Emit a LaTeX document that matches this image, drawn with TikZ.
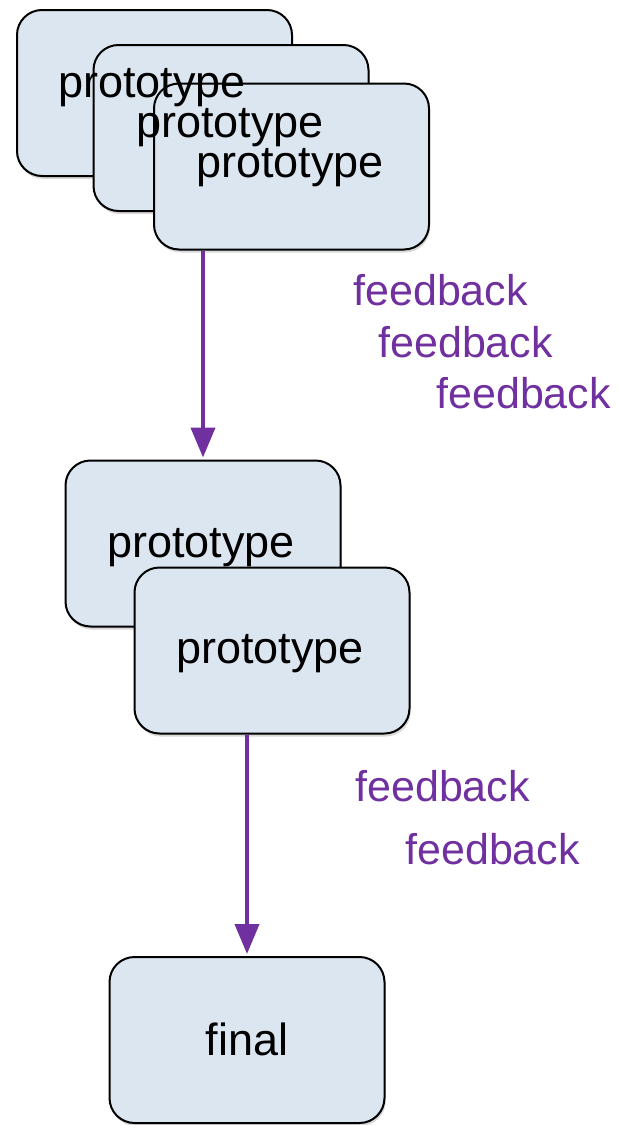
\documentclass[tikz,border=0pt]{standalone}
\usepackage{fontspec}
\setmainfont{Liberation Sans}
\usetikzlibrary{arrows.meta, shadows}
\definecolor{boxfill}{RGB}{220,230,240}
\definecolor{fbpurple}{RGB}{112,48,160}
\tikzset{
  proto/.style={rectangle, rounded corners=12.5pt, draw=black, line width=1pt,
    fill=boxfill, minimum width=137.5pt, minimum height=83pt,
    drop shadow={shadow xshift=0.6pt, shadow yshift=-1.5pt, opacity=0.3}},
  ptext/.style={font=\fontsize{22.5}{26}\selectfont, anchor=base, inner sep=0pt},
  fb/.style={font=\fontsize{21.5}{26}\selectfont, text=fbpurple,
    anchor=west, inner sep=0pt},
  flow/.style={draw=fbpurple, line width=2pt,
    -{Triangle[width=12pt, length=15pt]}}
}
\begin{document}
\begin{tikzpicture}[x=0.5pt, y=-0.5pt]
\useasboundingbox (0,0) rectangle (618,1125);

%% ── Boxes ──────────────────────────────────────────────
\node[proto] (proto1) at (154.5, 93)    {};
\node[proto] (proto2) at (231, 128)     {};
\node[proto] (proto3) at (291.5, 166.5) {};
\node[proto] (proto4) at (203, 543.5)   {};
\node[proto] (proto5) at (272, 650.5)   {};
\node[proto] (final)  at (247, 1040)    {};

%% ── Box texts (on top of the stacks) ───────────────────
\node[ptext] (lbl1) at (152, 97)   {prototype};
\node[ptext] (lbl2) at (230, 137)  {prototype};
\node[ptext] (lbl3) at (290, 177)  {prototype};
\node[ptext] (lbl4) at (201, 557)  {prototype};
\node[ptext] (lbl5) at (270, 663)  {prototype};
\node[ptext] (lbl6) at (247, 1055) {final};

%% ── Feedback labels ────────────────────────────────────
\node[fb] (fb1) at (353, 290) {feedback};
\node[fb] (fb2) at (378, 342) {feedback};
\node[fb] (fb3) at (436, 393) {feedback};
\node[fb] (fb4) at (355, 786) {feedback};
\node[fb] (fb5) at (405, 849) {feedback};

%% ── Connections ────────────────────────────────────────
\draw[flow] (proto3.south -| proto4.north) -- ([yshift=1pt]proto4.north);
\draw[flow] (proto5.south -| final.north)  -- ([yshift=1pt]final.north);

\end{tikzpicture}
\end{document}
